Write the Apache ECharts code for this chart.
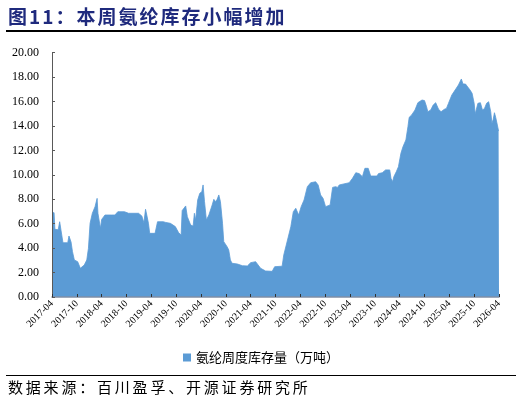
<!DOCTYPE html>
<html>
<head>
<meta charset="utf-8">
<script src="https://cdn.jsdelivr.net/npm/echarts@6/dist/echarts.min.js"></script>
<style>
  html, body { margin: 0; padding: 0; background: #fff; }
  #wrap { position: relative; width: 522px; height: 405px; overflow: hidden; }
  #chart { position: absolute; left: 0; top: 0; width: 522px; height: 405px; }
  .title {
    position: absolute; left: 8px; top: 4px;
    font-family: "Noto Sans CJK SC", sans-serif; font-weight: bold;
    font-size: 19px; letter-spacing: 2px; color: #1f2a7d; line-height: 24px;
  }
  .rule { position: absolute; left: 6px; width: 510px; background: #000; }
  .source {
    position: absolute; left: 8px; top: 377px;
    font-family: "Noto Sans CJK SC", sans-serif;
    font-size: 15px; letter-spacing: 2.8px; color: #000; line-height: 20px;
  }
</style>
</head>
<body>
<div id="wrap">
  <div id="chart"></div>
  <div class="title">图11：本周氨纶库存小幅增加</div>
  <div class="rule" style="top:30px;height:1.5px"></div>
  <div class="rule" style="top:375px;height:1px"></div>
  <div class="source">数据来源：百川盈孚、开源证券研究所</div>
</div>
<script>
// x position in months counted from 2017-04
const monthPos = [
  0, 0.5, 0.7, 1.5, 1.85, 2.3, 2.65, 3.8, 4.1, 4.6, 4.95, 5.4, 6.2, 6.85, 7.8, 8.4, 8.8, 9.2, 9.75, 10.4,
  10.9, 11.1, 11.7, 12.0, 12.4, 12.8, 14.4, 14.8, 15.2, 15.9, 17.5, 18.5, 20.9, 21.7, 22.2, 22.6, 22.9, 23.3, 23.6, 24.9,
  25.5, 26.9, 27.5, 28.6, 29.8, 30.6, 31.2, 31.45, 31.9, 32.3, 32.7, 33.1, 33.5, 34.1, 34.4, 34.7, 35.2, 35.7, 36.2, 36.5,
  36.85, 37.3, 37.9, 38.7, 39.1, 39.5, 39.9, 40.3, 40.7, 41.2, 41.5, 42.3, 42.7, 43.1, 43.5, 44.8, 45.2, 46, 47.2, 48,
  49.2, 50.4, 51.6, 53.2, 53.8, 55.6, 56, 56.9, 57.7, 58.3, 58.9, 59.6, 60.2, 60.9, 61.7, 62.5, 63.7, 64.3, 64.9, 65.5,
  66.1, 66.5, 67.2, 67.8, 68.5, 69.0, 69.4, 69.8, 71.8, 72.6, 73.4, 74.2, 75, 75.6, 76.4, 77, 78.5, 78.9, 79.8, 80.6,
  81, 81.6, 81.9, 82.3, 82.6, 83.2, 83.7, 84.3, 84.8, 85.5, 86, 86.3, 86.9, 87.7, 88.4, 89.4, 90, 90.5, 90.8, 91.5,
  92.1, 92.7, 93.4, 94, 94.8, 95.3, 95.8, 96.6, 97.4, 98.2, 98.9, 99.3, 99.9, 100.3, 101, 101.5, 102, 102.25, 102.6, 102.9,
  103.5, 104, 104.5, 105, 105.5, 106, 106.3, 106.6, 106.9, 107.2, 107.6, 107.9, 108
];

// 氨纶周度库存量（万吨）
const stock = [
  6.9, 6.9, 5.54, 5.5, 6.16, 6.05, 4.44, 4.44, 4.99, 4.5, 3.71, 3.03, 2.89, 2.35, 2.62, 3.03, 3.98, 6.03, 6.85, 7.39,
  8.07, 6.85, 5.62, 6.35, 6.35, 6.71, 6.71, 6.85, 6.71, 6.98, 6.98, 6.85, 6.85, 6.63, 6.08, 7.18, 6.71, 6.03, 5.21, 5.21,
  6.16, 6.16, 6.1, 6.03, 5.76, 5.26, 5.07, 7.07, 7.1, 7.45, 6.57, 6.44, 5.89, 5.8, 6.85, 6.3, 7.94, 8.48, 8.62, 9.17,
  7.8, 6.3, 6.71, 7.53, 7.99, 7.8, 7.99, 8.35, 7.8, 6.03, 4.53, 4.12, 3.85, 3.03, 2.76, 2.7, 2.54, 2.56, 2.54, 2.81,
  2.89, 2.35, 2.13, 2.1, 2.48, 2.52, 3.44, 4.66, 5.75, 6.98, 7.26, 6.71, 7.39, 7.94, 9.03, 9.35, 9.43, 9.17, 8.35, 8.07,
  7.39, 7.26, 7.53, 8.97, 9.03, 8.97, 9.17, 9.3, 9.35, 9.71, 10.17, 10.1, 9.85, 10.53, 10.53, 9.9, 9.9, 10.1, 10.17, 10.4,
  10.53, 10.4, 9.71, 9.44, 9.85, 10.26, 10.66, 11.76, 12.3, 12.85, 13.94, 14.7, 14.9, 15.3, 15.9, 16.12, 16.07, 15.57, 15.16, 15.3,
  15.71, 15.9, 15.36, 15.16, 15.36, 15.43, 15.85, 16.53, 16.94, 17.35, 17.84, 17.43, 17.43, 17.45, 16.94, 16.67, 15.85, 14.98, 15.0, 15.85,
  15.9, 15.3, 15.43, 15.85, 15.98, 15.16, 14.2, 14.54, 15.08, 14.7, 14.07, 13.58, 13.55
];

const xTickLabels = [
  "2017-04", "2017-10", "2018-04", "2018-10", "2019-04", "2019-10", "2020-04", "2020-10",
  "2021-04", "2021-10", "2022-04", "2022-10", "2023-04", "2023-10", "2024-04", "2024-10",
  "2025-04", "2025-10", "2026-04"
];

const seriesName = "氨纶周度库存量（万吨）";
const areaColor = "#5b9bd5";
const serif = "'Liberation Serif', 'Times New Roman', serif";

const chart = echarts.init(document.getElementById("chart"), null, { renderer: "canvas" });

chart.setOption({
  animation: false,
  grid: { left: 52, right: 23, top: 52.6, bottom: 108 },
  legend: {
    data: [{ name: seriesName, icon: "rect" }],
    left: 178,
    top: 346,
    itemWidth: 8,
    itemHeight: 8,
    itemGap: 6,
    textStyle: { fontFamily: "Noto Sans CJK SC", fontSize: 13, color: "#000" }
  },
  xAxis: {
    type: "value",
    min: 0,
    max: 108,
    interval: 6,
    z: 5,
    axisLine: { lineStyle: { color: "#7f8fa6", width: 1.5 } },
    axisTick: { inside: true, length: 3, lineStyle: { color: "#333" } },
    splitLine: { show: false },
    axisLabel: {
      rotate: 45,
      margin: 5,
      fontFamily: serif,
      fontSize: 10,
      color: "#000",
      formatter: (v) => xTickLabels[Math.round(v / 6)] || ""
    }
  },
  yAxis: {
    type: "value",
    min: 0,
    max: 20,
    interval: 2,
    z: 5,
    axisLine: { show: true, lineStyle: { color: "#595959", width: 1 } },
    axisTick: { show: true, inside: true, length: 3, lineStyle: { color: "#595959" } },
    splitLine: { show: false },
    axisLabel: {
      margin: 13,
      fontFamily: serif,
      fontSize: 12,
      color: "#000",
      formatter: (v) => v.toFixed(2)
    }
  },
  series: [
    {
      name: seriesName,
      type: "line",
      data: monthPos.map((m, i) => [m, stock[i]]),
      showSymbol: false,
      symbol: "none",
      lineStyle: { color: areaColor, width: 0.8 },
      itemStyle: { color: areaColor },
      areaStyle: { color: areaColor, opacity: 1 }
    }
  ]
});
</script>
</body>
</html>
